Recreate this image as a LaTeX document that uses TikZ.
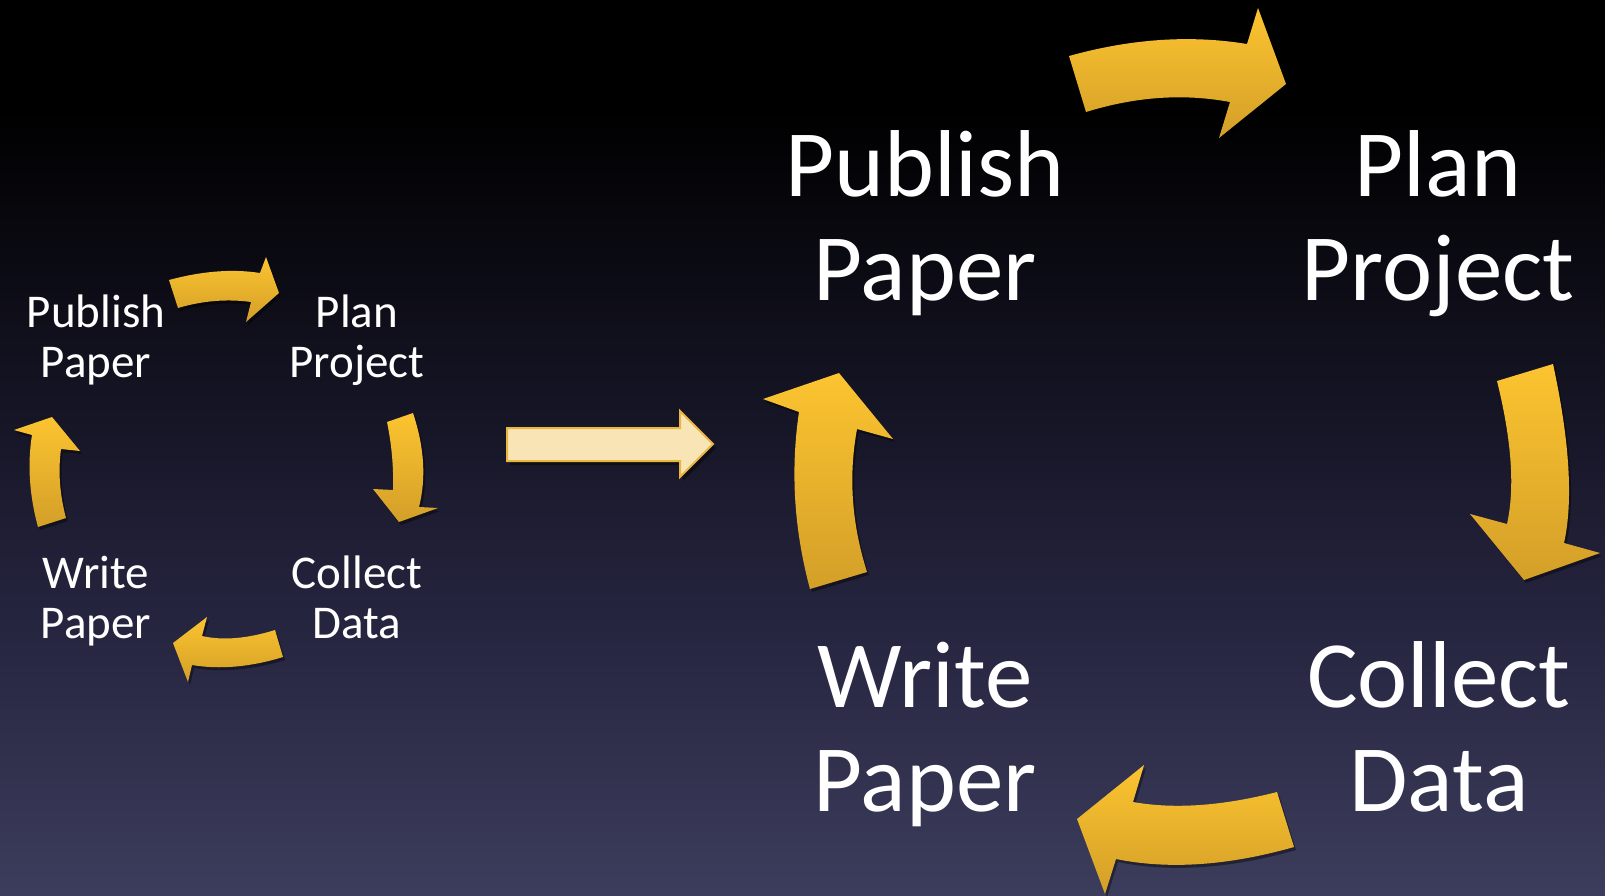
\documentclass[tikz,border=0pt]{standalone}
\usepackage{fontspec}
\setmainfont{Carlito}
\usetikzlibrary{shadows}

\definecolor{bgbot}{RGB}{60,61,92}
\definecolor{bglow}{RGB}{38,37,64}
\definecolor{bgmid}{RGB}{21,20,36}
\definecolor{arrowtop}{RGB}{252,196,48}
\definecolor{arrowbot}{RGB}{211,159,40}
\definecolor{bridgefill}{RGB}{248,228,181}
\definecolor{bridgeline}{RGB}{233,183,64}

% the filled path covers the band 25bp..75bp of the shading
\pgfdeclareverticalshading{nightsky}{100bp}{
  color(0bp)=(bgbot); color(25bp)=(bgbot); color(40bp)=(bglow); color(52.5bp)=(bgmid);
  color(69bp)=(black); color(100bp)=(black)}

\tikzset{
  cyclearrow/.style={top color=arrowtop, bottom color=arrowbot, draw=none,
    drop shadow={shadow xshift=2pt, shadow yshift=-3pt, opacity=0.4, fill=black}},
  bridgearrow/.style={fill=bridgefill, draw=bridgeline, line width=2pt, line join=miter,
    drop shadow={shadow xshift=3pt, shadow yshift=-4pt, opacity=0.4, fill=black}},
  bigtxt/.style={font=\fontsize{95}{104}\selectfont, align=center, text=white, inner sep=0pt},
  smalltxt/.style={font=\fontsize{47}{49.5}\selectfont, align=center, text=white, inner sep=0pt},
}

\begin{document}
\begin{tikzpicture}[x=1pt, y=-1pt]
  \useasboundingbox (0,0) rectangle (1605,895);
  \fill[shading=nightsky] (0,0) rectangle (1605,895);

  % ---- small cycle (labels anchored at the baseline of their last line) ----
  \node[smalltxt, anchor=base] (spub)  at (96,377)  {Publish\\Paper};
  \node[smalltxt, anchor=base] (splan) at (357,377) {Plan\\Project};
  \node[smalltxt, anchor=base] (swri)  at (96,638)  {Write\\Paper};
  \node[smalltxt, anchor=base] (scol)  at (357,638) {Collect\\Data};

  % publish -> plan
  \path[cyclearrow] (169,280) .. controls (202.3,271) and (232.7,268.7) .. (260,273)
    -- (266,257) -- (279,293) -- (246,322) -- (251,302)
    .. controls (227,298.7) and (202.7,300.7) .. (178,308) -- cycle;
  % plan -> collect
  \path[cyclearrow] (387,422) -- (413,413) .. controls (424.3,447) and (426.3,478.3) .. (419,507)
    -- (438,508) -- (399,522) -- (373,489) -- (393,490)
    .. controls (393.7,467.3) and (391.7,444.7) .. (387,422) -- cycle;
  % collect -> write
  \path[cyclearrow] (275,630) -- (283,657) .. controls (250.3,667) and (220,669.7) .. (192,665)
    -- (188,682) -- (173,643) -- (207,617) -- (202,636)
    .. controls (222.7,640.7) and (247,638.7) .. (275,630) -- cycle;
  % write -> publish
  \path[cyclearrow] (38,527) -- (66,518) .. controls (59.7,494.3) and (58,471.3) .. (61,449)
    -- (80,451) -- (52,417) -- (14,430) -- (32,435)
    .. controls (27.3,464.3) and (29.3,495) .. (38,527) -- cycle;

  % ---- transition arrow ----
  \path[bridgearrow] (507,428) -- (680,428) -- (680,411) -- (713,444) -- (680,477)
    -- (680,461) -- (507,461) -- cycle;

  % ---- large cycle ----
  \node[bigtxt, anchor=base] (bpub)  at (925,300)  {Publish\\Paper};
  \node[bigtxt, anchor=base] (bplan) at (1438,300) {Plan\\Project};
  \node[bigtxt, anchor=base] (bwri)  at (925,811)  {Write\\Paper};
  \node[bigtxt, anchor=base] (bcol)  at (1439,811) {Collect\\Data};

  % publish -> plan
  \path[cyclearrow] (1069,56) .. controls (1131,38.7) and (1190.3,34.7) .. (1247,44)
    -- (1258,8) -- (1286,84) -- (1219,138) -- (1230,102)
    .. controls (1183.3,93.3) and (1135.3,96.7) .. (1086,112) -- cycle;
  % plan -> collect
  \path[cyclearrow] (1497,381) -- (1553,364) .. controls (1569.7,441.3) and (1573.3,501) .. (1564,543)
    -- (1600,553) -- (1524,580) -- (1470,514) -- (1507,524)
    .. controls (1515,488) and (1511.7,440.3) .. (1497,381) -- cycle;
  % collect -> write
  \path[cyclearrow] (1277,792) -- (1294,847) .. controls (1228,865.7) and (1168.7,869.7) .. (1116,859)
    -- (1105,894) -- (1077,819) -- (1144,765) -- (1133,802)
    .. controls (1174.3,809.3) and (1222.3,806) .. (1277,792) -- cycle;
  % write -> publish
  \path[cyclearrow] (810,589) -- (867,572) .. controls (851.7,524) and (848.3,476.3) .. (857,429)
    -- (893,439) -- (839,373) -- (763,399) -- (799,412)
    .. controls (790.3,470.7) and (794,529.7) .. (810,589) -- cycle;
\end{tikzpicture}
\end{document}
